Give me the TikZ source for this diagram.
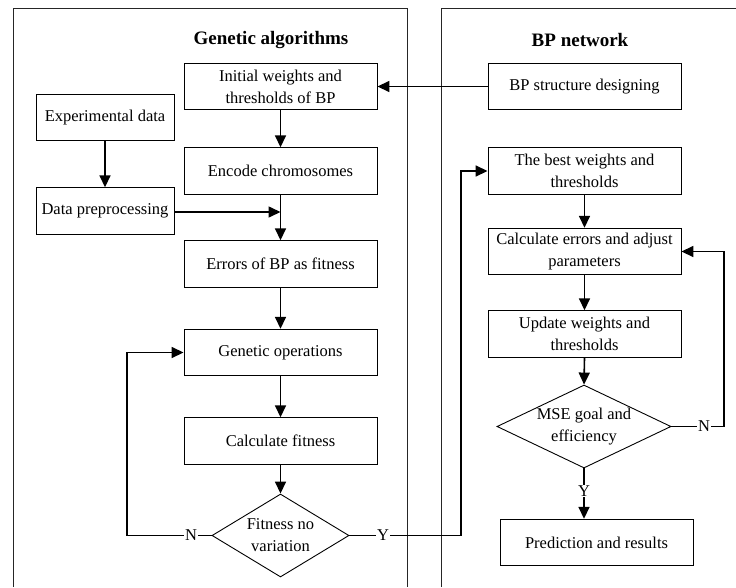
\documentclass[tikz,border=0pt]{standalone}
\usepackage{fontspec}
\setmainfont{Liberation Serif}
\usetikzlibrary{arrows.meta,shapes.geometric}
\begin{document}
\begin{tikzpicture}[x=1pt,y=-1pt,
  box/.style={draw, line width=0.9pt, minimum width=193pt, minimum height=46.5pt, align=center, inner sep=2pt, font=\fontsize{16.5}{22}\selectfont},
  sbox/.style={box, minimum width=138pt},
  decision/.style={draw, diamond, line width=0.9pt, inner sep=0pt},
  dtext/.style={align=center, font=\fontsize{16.5}{22}\selectfont},
  title/.style={font=\fontsize{19}{23}\selectfont\bfseries},
  conn/.style={line width=1.6pt},
  arr/.style={conn, -{Triangle[length=12pt,width=11pt]}},
  yn/.style={fill=white, inner sep=1pt, font=\fontsize{16.5}{22}\selectfont},
  panel/.style={line width=0.9pt, draw=black!85}]
\useasboundingbox (0,0) rectangle (736,587);
% panels
\draw[panel] (13,587) -- (13,8) -- (407,8) -- (407,587);
\draw[panel] (441,587) -- (441,8) -- (736,8);
\node[title] (t1) at (271,40) {Genetic algorithms};
\node[title] (t2) at (580,40) {BP network};
% left column
\node[box] (init) at (280.5,86.5) {Initial weights and\\thresholds of BP};
\node[sbox] (exp) at (105,117.5) {Experimental data};
\node[box] (enc) at (280.5,171) {Encode chromosomes};
\node[sbox] (pre) at (105,211) {Data preprocessing};
\node[box] (err) at (280.5,264) {Errors of BP as fitness};
\node[box] (gen) at (280.5,352.5) {Genetic operations};
\node[box] (calc) at (280.5,441) {Calculate fitness};
\node[decision, minimum width=137pt, minimum height=83pt,
  label={[dtext]center:Fitness no\\variation}] (fit) at (280.5,535.5) {};
% right column
\node[box] (bps) at (584.5,86.5) {BP structure designing};
\node[box] (best) at (584.5,171) {The best weights and\\thresholds};
\node[box] (cerr) at (584.5,251.5) {Calculate errors and adjust\\parameters};
\node[box] (upd) at (584.5,334) {Update weights and\\thresholds};
\node[decision, minimum width=174pt, minimum height=83pt,
  label={[dtext]center:MSE goal and\\efficiency}] (mse) at (584,426.5) {};
\node[box] (pred) at (596.5,542.5) {Prediction and results};
% connectors
\draw[arr] (bps.west) -- (init.east);
\draw[arr] (init.south) -- (enc.north);
\draw[arr] (exp.south) -- (pre.north);
\draw[arr] (enc.south) -- (err.north);
\coordinate (j1) at (280.5,212);
\draw[arr] (pre.east |- j1) -- (j1);
\draw[arr] (err.south) -- (gen.north);
\draw[arr] (gen.south) -- (calc.north);
\draw[arr] (calc.south) -- (fit.north);
\coordinate (lN) at (127,535.5);
\draw[arr] (fit.west) -- (lN) -- (lN |- gen.west) -- (gen.west);
\node[yn] (nl) at (191,535.5) {N};
\coordinate (lY) at (461,535.5);
\draw[arr] (fit.east) -- (lY) -- (lY |- best.west) -- (best.west);
\node[yn] (yl) at (383,535.5) {Y};
\draw[arr] (best.south) -- (cerr.north);
\draw[arr] (cerr.south) -- (upd.north);
\draw[arr] (upd.south) -- (mse.north);
\draw[arr] (mse.south) -- (mse.south |- pred.north);
\node[yn] (yr) at (584,491) {Y};
\coordinate (rN) at (724,426.5);
\draw[arr] (mse.east) -- (rN) -- (rN |- cerr.east) -- (cerr.east);
\node[yn] (nr) at (704,426.5) {N};
\end{tikzpicture}
\end{document}
